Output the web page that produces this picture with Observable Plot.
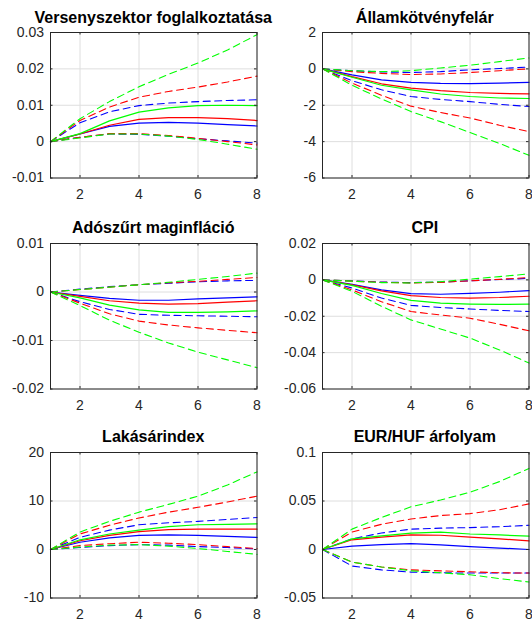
<!DOCTYPE html>
<html>
<head>
<meta charset="utf-8">
<script src="https://cdn.jsdelivr.net/npm/d3@7"></script>
<script src="https://cdn.jsdelivr.net/npm/@observablehq/plot@0.6"></script>
<style>
  html, body { margin: 0; padding: 0; background: #fff; overflow: hidden; }
  #chart { position: relative; width: 532px; height: 623px; background: #fff; }
  .panel { position: absolute; }
  .ptitle {
    position: absolute;
    font-family: "Liberation Sans", Arial, Helvetica, sans-serif;
    font-weight: bold;
    font-size: 16px;
    line-height: 16px;
    color: #000;
    white-space: nowrap;
    transform: translateX(-50%);
  }
</style>
</head>
<body>
<div id="chart"></div>
<script>
// Horizon (quarters) shared by every panel
const periods = [1, 2, 3, 4, 5, 6, 7, 8];
const xTicks = [2, 4, 6, 8];

// Versenyszektor foglalkoztatása
const emp_blue_mid  = [0, 0.0021, 0.0042, 0.0051, 0.0053, 0.0051, 0.0047, 0.0043];
const emp_blue_lo   = [0, 0.0012, 0.0021, 0.0020, 0.0015, 0.0008, 0.0002, -0.0004];
const emp_blue_hi   = [0, 0.0052, 0.0082, 0.0099, 0.0106, 0.0110, 0.0113, 0.0115];
const emp_red_mid   = [0, 0.0021, 0.0045, 0.0061, 0.0066, 0.0066, 0.0063, 0.0058];
const emp_red_lo    = [0, 0.0012, 0.0022, 0.0022, 0.0017, 0.0009, 0.0000, -0.0009];
const emp_red_hi    = [0, 0.0058, 0.0095, 0.0122, 0.0138, 0.0150, 0.0164, 0.0180];
const emp_green_mid = [0, 0.0022, 0.0057, 0.0081, 0.0093, 0.0099, 0.0100, 0.0099];
const emp_green_lo  = [0, 0.0010, 0.0021, 0.0021, 0.0015, 0.0006, -0.0007, -0.0021];
const emp_green_hi  = [0, 0.0063, 0.0110, 0.0151, 0.0185, 0.0216, 0.0252, 0.0294];
const emp_ticks = [-0.01, 0, 0.01, 0.02, 0.03];

// Államkötvényfelár
const spr_blue_mid  = [0, -0.33, -0.60, -0.74, -0.80, -0.81, -0.78, -0.74];
const spr_blue_lo   = [0, -0.65, -1.15, -1.52, -1.68, -1.80, -1.95, -2.07];
const spr_blue_hi   = [0, -0.10, -0.17, -0.20, -0.15, -0.05, 0.02, 0.10];
const spr_red_mid   = [0, -0.43, -0.82, -1.06, -1.20, -1.30, -1.35, -1.37];
const spr_red_lo    = [0, -0.78, -1.45, -2.05, -2.40, -2.70, -3.10, -3.45];
const spr_red_hi    = [0, -0.15, -0.25, -0.31, -0.28, -0.20, -0.10, 0.00];
const spr_green_mid = [0, -0.46, -0.90, -1.15, -1.38, -1.52, -1.60, -1.63];
const spr_green_lo  = [0, -0.90, -1.65, -2.35, -2.90, -3.50, -4.10, -4.75];
const spr_green_hi  = [0, -0.10, -0.15, -0.10, 0.05, 0.20, 0.40, 0.60];
const spr_ticks = [-6, -4, -2, 0, 2];

// Adószűrt maginfláció
const core_blue_mid  = [0, -0.0007, -0.0013, -0.0017, -0.0017, -0.0014, -0.0012, -0.0010];
const core_blue_lo   = [0, -0.0020, -0.0036, -0.0046, -0.0048, -0.0049, -0.0050, -0.0051];
const core_blue_hi   = [0, 0.0006, 0.0011, 0.0015, 0.0018, 0.0021, 0.0023, 0.0024];
const core_red_mid   = [0, -0.0009, -0.0018, -0.0023, -0.0025, -0.0024, -0.0021, -0.0018];
const core_red_lo    = [0, -0.0023, -0.0045, -0.0060, -0.0068, -0.0074, -0.0079, -0.0084];
const core_red_hi    = [0, 0.0005, 0.0010, 0.0015, 0.0019, 0.0022, 0.0026, 0.0030];
const core_green_mid = [0, -0.0012, -0.0027, -0.0037, -0.0042, -0.0042, -0.0041, -0.0039];
const core_green_lo  = [0, -0.0028, -0.0058, -0.0083, -0.0105, -0.0124, -0.0140, -0.0156];
const core_green_hi  = [0, 0.0005, 0.0010, 0.0015, 0.0020, 0.0026, 0.0032, 0.0039];
const core_ticks = [-0.02, -0.01, 0, 0.01];

// CPI
const cpi_blue_mid  = [0, -0.0025, -0.0055, -0.0076, -0.0079, -0.0074, -0.0068, -0.0059];
const cpi_blue_lo   = [0, -0.0045, -0.0100, -0.0140, -0.0152, -0.0160, -0.0168, -0.0174];
const cpi_blue_hi   = [0, -0.0005, -0.0012, -0.0015, -0.0012, -0.0005, 0.0002, 0.0008];
const cpi_red_mid   = [0, -0.0027, -0.0060, -0.0087, -0.0097, -0.0100, -0.0097, -0.0090];
const cpi_red_lo    = [0, -0.0055, -0.0120, -0.0174, -0.0193, -0.0211, -0.0244, -0.0280];
const cpi_red_hi    = [0, -0.0007, -0.0013, -0.0017, -0.0014, -0.0005, 0.0003, 0.0013];
const cpi_green_mid = [0, -0.0030, -0.0075, -0.0113, -0.0128, -0.0133, -0.0135, -0.0133];
const cpi_green_lo  = [0, -0.0063, -0.0145, -0.0220, -0.0270, -0.0320, -0.0385, -0.0457];
const cpi_green_hi  = [0, -0.0007, -0.0015, -0.0017, -0.0010, 0.0004, 0.0018, 0.0033];
const cpi_ticks = [-0.06, -0.04, -0.02, 0, 0.02];

// Lakásárindex
const hpi_blue_mid  = [0, 1.5, 2.4, 2.9, 3.0, 2.9, 2.7, 2.5];
const hpi_blue_lo   = [0, 0.4, 0.8, 1.0, 0.9, 0.6, 0.4, 0.1];
const hpi_blue_hi   = [0, 2.5, 4.0, 5.1, 5.5, 5.8, 6.2, 6.6];
const hpi_red_mid   = [0, 1.8, 2.9, 3.7, 4.1, 4.2, 4.2, 4.2];
const hpi_red_lo    = [0, 0.8, 1.2, 1.5, 1.3, 1.0, 0.6, 0.2];
const hpi_red_hi    = [0, 3.2, 5.0, 6.5, 7.7, 8.7, 9.8, 11.0];
const hpi_green_mid = [0, 2.0, 3.2, 4.0, 4.7, 5.1, 5.2, 5.3];
const hpi_green_lo  = [0, 0.5, 0.9, 1.0, 0.7, 0.2, -0.4, -1.0];
const hpi_green_hi  = [0, 3.6, 5.8, 7.7, 9.3, 11.0, 13.3, 16.0];
const hpi_ticks = [-10, 0, 10, 20];

// EUR/HUF árfolyam
const fx_blue_mid  = [0, 0.0035, 0.0050, 0.0060, 0.0048, 0.0030, 0.0015, 0.0000];
const fx_blue_lo   = [0, -0.0170, -0.0210, -0.0233, -0.0240, -0.0243, -0.0243, -0.0243];
const fx_blue_hi   = [0, 0.0110, 0.0170, 0.0210, 0.0220, 0.0226, 0.0235, 0.0250];
const fx_red_mid   = [0, 0.0100, 0.0128, 0.0150, 0.0147, 0.0127, 0.0110, 0.0089];
const fx_red_lo    = [0, -0.0130, -0.0180, -0.0210, -0.0220, -0.0230, -0.0240, -0.0243];
const fx_red_hi    = [0, 0.0180, 0.0260, 0.0315, 0.0350, 0.0370, 0.0410, 0.0470];
const fx_green_mid = [0, 0.0110, 0.0140, 0.0168, 0.0180, 0.0160, 0.0150, 0.0137];
const fx_green_lo  = [0, -0.0130, -0.0180, -0.0220, -0.0240, -0.0260, -0.0300, -0.0335];
const fx_green_hi  = [0, 0.0210, 0.0330, 0.0440, 0.0510, 0.0590, 0.0700, 0.0836];
const fx_ticks = [-0.05, 0, 0.05, 0.1];

const BLUE = "#0000ff", RED = "#ff0000", GREEN = "#00ff00";

const panels = [
  { title: "Versenyszektor foglalkoztatása", ticks: emp_ticks, row: 0, col: 0,
    series: [[BLUE, emp_blue_mid, emp_blue_lo, emp_blue_hi], [RED, emp_red_mid, emp_red_lo, emp_red_hi], [GREEN, emp_green_mid, emp_green_lo, emp_green_hi]] },
  { title: "Államkötvényfelár", ticks: spr_ticks, row: 0, col: 1,
    series: [[BLUE, spr_blue_mid, spr_blue_lo, spr_blue_hi], [RED, spr_red_mid, spr_red_lo, spr_red_hi], [GREEN, spr_green_mid, spr_green_lo, spr_green_hi]] },
  { title: "Adószűrt maginfláció", ticks: core_ticks, row: 1, col: 0,
    series: [[BLUE, core_blue_mid, core_blue_lo, core_blue_hi], [RED, core_red_mid, core_red_lo, core_red_hi], [GREEN, core_green_mid, core_green_lo, core_green_hi]] },
  { title: "CPI", ticks: cpi_ticks, row: 1, col: 1,
    series: [[BLUE, cpi_blue_mid, cpi_blue_lo, cpi_blue_hi], [RED, cpi_red_mid, cpi_red_lo, cpi_red_hi], [GREEN, cpi_green_mid, cpi_green_lo, cpi_green_hi]] },
  { title: "Lakásárindex", ticks: hpi_ticks, row: 2, col: 0,
    series: [[BLUE, hpi_blue_mid, hpi_blue_lo, hpi_blue_hi], [RED, hpi_red_mid, hpi_red_lo, hpi_red_hi], [GREEN, hpi_green_mid, hpi_green_lo, hpi_green_hi]] },
  { title: "EUR/HUF árfolyam", ticks: fx_ticks, row: 2, col: 1,
    series: [[BLUE, fx_blue_mid, fx_blue_lo, fx_blue_hi], [RED, fx_red_mid, fx_red_lo, fx_red_hi], [GREEN, fx_green_mid, fx_green_lo, fx_green_hi]] }
];

// Plot-area geometry of the 3×2 grid
const colLeft = [50, 321.5];
const rowTop = [32, 242.7, 451.7];
const plotW = 206.5, plotH = 145.5;
const mL = 50, mR = 4, mT = 6, mB = 28;

const chart = document.getElementById("chart");

for (const p of panels) {
  const rows = [];
  for (const [color, mid, lo, hi] of p.series) {
    for (const [kind, values] of [["mid", mid], ["lo", lo], ["hi", hi]]) {
      values.forEach((v, i) => rows.push({ x: periods[i], y: v, color, kind, key: color + kind }));
    }
  }
  const solid = rows.filter(d => d.kind === "mid");
  const dashed = rows.filter(d => d.kind !== "mid");
  const yDomain = [p.ticks[0], p.ticks[p.ticks.length - 1]];

  const svg = Plot.plot({
    width: mL + plotW + mR,
    height: mT + plotH + mB,
    marginLeft: mL, marginRight: mR, marginTop: mT, marginBottom: mB,
    style: { fontFamily: "'Liberation Sans', Arial, Helvetica, sans-serif", fontSize: "14px", color: "#262626", background: "transparent" },
    x: { domain: [1, 8] },
    y: { domain: yDomain },
    color: { type: "identity" },
    marks: [
      Plot.gridX(xTicks, { stroke: "#dedede", strokeOpacity: 1 }),
      Plot.gridY(p.ticks, { stroke: "#dedede", strokeOpacity: 1 }),
      Plot.line(dashed, { x: "x", y: "y", z: "key", stroke: "color", strokeWidth: 1.1, strokeDasharray: "7,4.5" }),
      Plot.line(solid, { x: "x", y: "y", z: "key", stroke: "color", strokeWidth: 1.2 }),
      // short inward tick marks on the box
      Plot.ruleX(xTicks, { stroke: "#262626", insetTop: plotH - 2.5 }),
      Plot.ruleX(xTicks, { stroke: "#262626", insetBottom: plotH - 2.5 }),
      Plot.ruleY(p.ticks, { stroke: "#262626", insetRight: plotW - 2.5 }),
      Plot.ruleY(p.ticks, { stroke: "#262626", insetLeft: plotW - 2.5 }),
      Plot.frame({ stroke: "#262626", strokeWidth: 1 }),
      Plot.axisX(xTicks, { tickSize: 0, tickPadding: 11.5, label: null, tickFormat: d => String(d) }),
      Plot.axisY(p.ticks, { tickSize: 0, tickPadding: 6.5, label: null, tickFormat: d => String(d) })
    ]
  });
  svg.classList.add("panel");
  svg.style.left = (colLeft[p.col] - mL) + "px";
  svg.style.top = (rowTop[p.row] - mT) + "px";
  svg.style.overflow = "visible";
  chart.appendChild(svg);

  const t = document.createElement("div");
  t.className = "ptitle";
  t.textContent = p.title;
  t.style.left = (colLeft[p.col] + plotW / 2) + "px";
  t.style.top = (rowTop[p.row] - 22.5) + "px";
  chart.appendChild(t);
}
</script>
</body>
</html>
